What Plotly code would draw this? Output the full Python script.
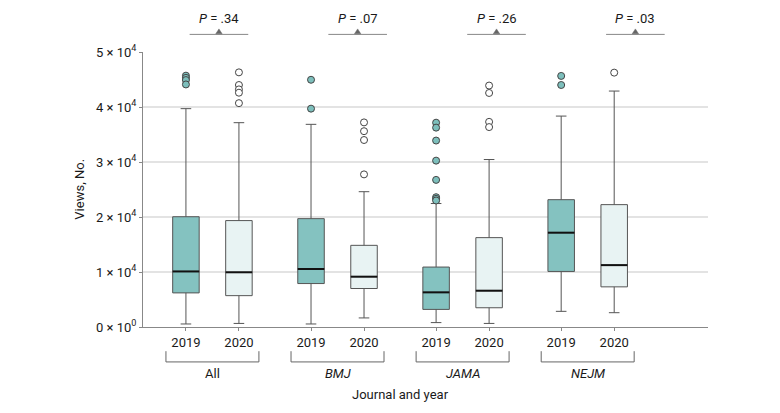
import plotly.graph_objects as go

# ---- data ----
journals = ["All", "BMJ", "JAMA", "NEJM"]
years = ["2019", "2020"]
p_values = ["P = .34", "P = .07", "P = .26", "P = .03"]

# order: All-2019, All-2020, BMJ-2019, BMJ-2020, JAMA-2019, JAMA-2020, NEJM-2019, NEJM-2020
q1 = [6200, 5700, 7900, 7000, 3200, 3500, 10100, 7300]
median = [10100, 9950, 10550, 9150, 6300, 6600, 17150, 11250]
q3 = [20050, 19350, 19700, 14850, 10900, 16250, 23150, 22250]
lower_fence = [550, 650, 550, 1650, 800, 650, 2850, 2600]
upper_fence = [39700, 37150, 36850, 24600, 22450, 30450, 38350, 42900]
outliers = [
    [45700, 45300, 44900, 44100],
    [46300, 44000, 43200, 42600, 40700],
    [44950, 39700],
    [37200, 35600, 34000, 27750],
    [37150, 36250, 33900, 30250, 26750, 23600, 23300, 23000],
    [43900, 42550, 37300, 36350],
    [45650, 44000],
    [46250],
]

y_tickvals = [0, 10000, 20000, 30000, 40000, 50000]
y_ticktext = ["0 × 10<sup>0</sup>", "1 × 10<sup>4</sup>", "2 × 10<sup>4</sup>",
              "3 × 10<sup>4</sup>", "4 × 10<sup>4</sup>", "5 × 10<sup>4</sup>"]

# ---- layout helpers ----
GROUP_STEP = 2.36
BOX_W = 0.5
fills = {"2019": "#84C2C0", "2020": "#E8F3F3"}
out_fills = {"2019": "#7DBFBC", "2020": "#FFFFFF"}
FONT = "Roboto, sans-serif"
FS = 13
TXT = "#1a1a1a"

fig = go.Figure()
xpos, xlabels = [], []
i = 0
for g, j_name in enumerate(journals):
    for j, yr in enumerate(years):
        x = g * GROUP_STEP + j
        xpos.append(x)
        xlabels.append(yr)
        fig.add_trace(go.Box(
            x=[x], q1=[q1[i]], median=[median[i]], q3=[q3[i]],
            lowerfence=[lower_fence[i]], upperfence=[upper_fence[i]],
            width=BOX_W, whiskerwidth=0.4, fillcolor=fills[yr],
            line=dict(color="#555555", width=1), boxpoints=False,
            showlegend=False, hoverinfo="skip"))
        fig.add_trace(go.Scatter(
            x=[x] * len(outliers[i]), y=outliers[i], mode="markers",
            marker=dict(size=7, color=out_fills[yr], line=dict(color="#444444", width=1)),
            showlegend=False, hoverinfo="skip"))
        i += 1

# median lines
mx, my = [], []
for x, m in zip(xpos, median):
    mx += [x - BOX_W / 2, x + BOX_W / 2, None]
    my += [m, m, None]
fig.add_trace(go.Scatter(x=mx, y=my, mode="lines", line=dict(color="#111111", width=2),
                         showlegend=False, hoverinfo="skip"))

shapes, annotations = [], []
BR = 0.377
for g, name in enumerate(journals):
    x0 = xpos[2 * g] - BR
    x1 = xpos[2 * g + 1] + BR
    shapes.append(dict(type="path", xref="x", yref="paper",
                       path=f"M {x0},-0.088 L {x0},-0.127 L {x1},-0.127 L {x1},-0.088",
                       line=dict(color="#666666", width=1)))
    annotations.append(dict(x=(xpos[2 * g] + xpos[2 * g + 1]) / 2, xref="x",
                            y=-0.17, yref="paper", yanchor="middle", xanchor="center",
                            text=name if name == "All" else f"<i>{name}</i>",
                            showarrow=False, font=dict(size=FS, color=TXT, family=FONT)))

# P-value markers above the plot (positions in reference are offset from groups)
p_centers = [0.623, 3.24, 5.86, 8.48]
for pc, pv in zip(p_centers, p_values):
    shapes.append(dict(type="line", xref="x", yref="paper", x0=pc - 0.553, x1=pc + 0.553,
                       y0=1.064, y1=1.064, line=dict(color="#888888", width=1)))
    shapes.append(dict(type="path", xref="x", yref="paper",
                       path=f"M {pc-0.06},1.066 L {pc+0.06},1.066 L {pc},1.084 Z",
                       fillcolor="#666666", line=dict(color="#666666", width=0.5)))
    annotations.append(dict(x=pc, xref="x", y=1.12, yref="paper", yanchor="middle",
                            xanchor="center", text="<i>P</i>" + pv[1:], showarrow=False,
                            font=dict(size=FS, color=TXT, family=FONT)))

annotations.append(dict(x=(xpos[0] + xpos[-1]) / 2, xref="x", y=-0.245, yref="paper",
                        yanchor="middle", xanchor="center",
                        text="Journal and year", showarrow=False,
                        font=dict(size=FS, color=TXT, family=FONT)))
annotations.append(dict(x=-0.113, xref="paper", y=0.5, yref="paper", textangle=-90,
                        xanchor="center", yanchor="middle",
                        text="Views, No.", showarrow=False,
                        font=dict(size=FS, color=TXT, family=FONT)))

fig.update_layout(
    width=780, height=413,
    margin=dict(l=143, r=72, t=52, b=86, pad=0),
    plot_bgcolor="white", paper_bgcolor="white",
    font=dict(family=FONT, size=FS, color=TXT),
    shapes=shapes, annotations=annotations,
    xaxis=dict(range=[-0.81, 9.85], tickvals=xpos, ticktext=xlabels, showgrid=False,
               zeroline=False, showline=True, linecolor="#888888", linewidth=1,
               ticks="outside", ticklen=3, tickcolor="#888888",
               tickfont=dict(size=FS, color=TXT, family=FONT)),
    yaxis=dict(range=[0, 50000], tickvals=y_tickvals, ticktext=y_ticktext,
               showgrid=True, gridcolor="#E3E3E3", gridwidth=1.5, zeroline=False,
               showline=True, linecolor="#888888", linewidth=1,
               ticks="outside", ticklen=3, tickcolor="#888888",
               tickfont=dict(size=FS, color=TXT, family=FONT)),
)

fig.write_html("out.html", config={"displayModeBar": False},
               post_script="document.body.style.margin='0';")
